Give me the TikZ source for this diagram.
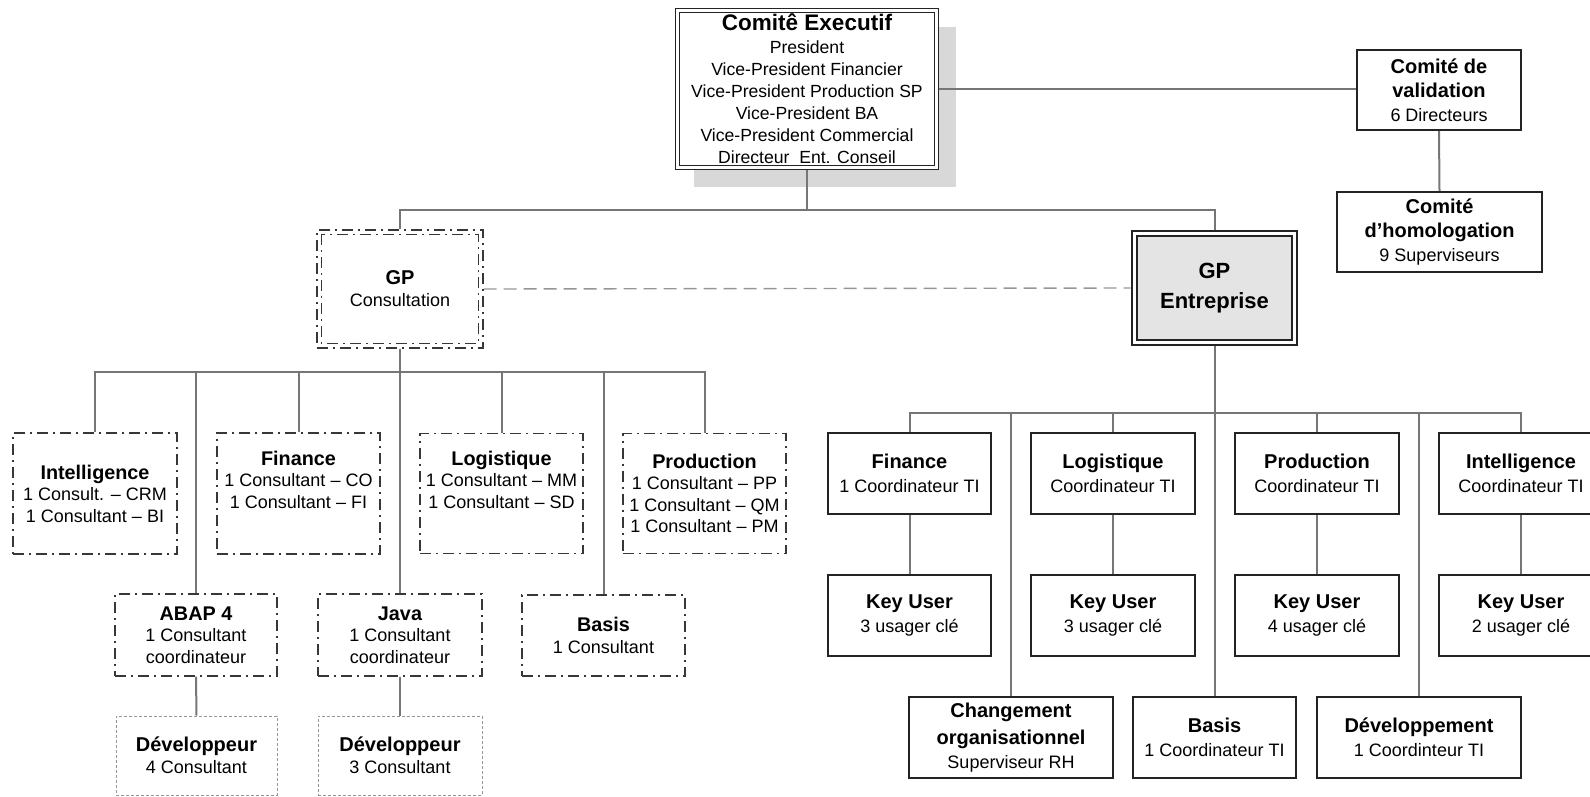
\documentclass[tikz,border=0pt]{standalone}
\usepackage{fontspec}
\setmainfont{Liberation Sans}
\usetikzlibrary{backgrounds}

\definecolor{linkgray}{RGB}{118,118,118}
\definecolor{shadowgray}{RGB}{216,216,216}
\definecolor{gpfill}{RGB}{228,228,228}
\definecolor{thingray}{RGB}{150,150,150}
\definecolor{framedark}{RGB}{35,35,35}
\definecolor{dashdark}{RGB}{55,55,55}

% headings inside the boxes
\newcommand\RHead[1]{{\fontsize{20}{24}\selectfont\bfseries #1}}
\newcommand\LHead[1]{{\fontsize{19.8}{21.5}\selectfont\bfseries #1}}

\tikzset{
  link/.style={draw=linkgray, line width=2pt},
  dashlink/.style={draw=thingray, line width=1.4pt, dash pattern=on 13pt off 7pt},
  sz/.style 2 args={minimum width=#1pt, minimum height=#2pt},
  basebox/.style={rectangle, inner sep=0pt, align=center, fill=white},
  rbox/.style={basebox, draw=framedark, line width=1.5pt,
    font=\fontsize{18}{24}\selectfont},
  dashdot/.style={draw=dashdark, line width=1.2pt,
    dash pattern=on 11pt off 5pt on 2pt off 5pt},
  lbox/.style={basebox, dashdot, font=\fontsize{18}{21.5}\selectfont},
  devbox/.style={basebox, draw=thingray, line width=1pt,
    dash pattern=on 3pt off 2pt, font=\fontsize{18}{22}\selectfont},
}

\begin{document}
\begin{tikzpicture}[x=1pt, y=-1pt]
\useasboundingbox (0,0) rectangle (1590,797);
\clip (0,0) rectangle (1590,797);

% ---------- top level ----------
\node[basebox, sz={259}{157}, draw=framedark, line width=1.3pt,
      double=white, double distance=2.6pt,
      font=\fontsize{17.6}{22}\selectfont] (ce) at (807,89)
  {{\fontsize{22.5}{24}\selectfont\bfseries Comitê Executif}\\[1pt]
   President\\Vice-President Financier\\Vice-President Production SP\\
   Vice-President BA\\Vice-President Commercial\\Directeur\ \ Ent. Conseil};

\node[rbox, sz={164}{80}] (val) at (1439,90)
  {\RHead{Comité de}\\\RHead{validation}\\6 Directeurs};
\node[rbox, sz={205}{80}] (hom) at (1439.5,232)
  {\RHead{Comité}\\\RHead{d’homologation}\\9 Superviseurs};

% ---------- project managers ----------
\node[lbox, sz={166}{118}, font=\fontsize{18}{22}\selectfont] (gpc) at (400,289)
  {{\fontsize{20}{22}\selectfont\bfseries GP}\\Consultation};
\draw[dashdot] ([shift={(5,5)}]gpc.north west) rectangle ([shift={(-5,-5)}]gpc.south east);

\node[basebox, sz={165}{114}, draw=framedark, line width=2.6pt,
      font=\fontsize{22}{30}\selectfont\bfseries,
      path picture={\draw[fill=gpfill, draw=framedark, line width=1.2pt]
        ([shift={(5,5)}]path picture bounding box.north west) rectangle
        ([shift={(-5,-5)}]path picture bounding box.south east);}] (gpe) at (1214.5,288)
  {GP\\Entreprise};

% ---------- consultation side ----------
\node[lbox, sz={164}{121}] (lint) at (95,493.5)
  {\LHead{Intelligence}\\1 Consult. – CRM\\1 Consultant – BI};
\node[lbox, sz={163}{121}] (lfin) at (298.5,493.5)
  {\LHead{Finance}\\1 Consultant – CO\\1 Consultant – FI\\\strut};
\node[lbox, sz={163}{120}] (llog) at (501.5,493.5)
  {\LHead{Logistique}\\1 Consultant – MM\\1 Consultant – SD\\\strut};
\node[lbox, sz={163}{120}] (lprod) at (704.5,493.5)
  {\LHead{Production}\\1 Consultant – PP\\1 Consultant – QM\\1 Consultant – PM};

\node[lbox, sz={162}{82}] (abap) at (196,635)
  {\LHead{ABAP 4}\\1 Consultant\\coordinateur};
\node[lbox, sz={164}{82}] (java) at (400,635)
  {\LHead{Java}\\1 Consultant\\coordinateur};
\node[lbox, sz={163}{81}] (lbas) at (603.5,635.5)
  {\LHead{Basis}\\1 Consultant};

\node[devbox, sz={161}{79}] (dev1) at (196.5,755.5)
  {{\fontsize{20}{22}\selectfont\bfseries Développeur}\\4 Consultant};
\node[devbox, sz={164}{79}] (dev2) at (400,755.5)
  {{\fontsize{20}{22}\selectfont\bfseries Développeur}\\3 Consultant};

% ---------- enterprise side ----------
\node[rbox, sz={163}{81}] (rfin) at (909.5,473.5)
  {\RHead{Finance}\\1 Coordinateur TI};
\node[rbox, sz={164}{81}] (rlog) at (1113,473.5)
  {\RHead{Logistique}\\Coordinateur TI};
\node[rbox, sz={164}{81}] (rprod) at (1317,473.5)
  {\RHead{Production}\\Coordinateur TI};
\node[rbox, sz={164}{81}] (rint) at (1521,473.5)
  {\RHead{Intelligence}\\Coordinateur TI};

\node[rbox, sz={163}{81}] (kfin) at (909.5,615.5)
  {\RHead{Key User}\\3 usager clé};
\node[rbox, sz={164}{81}] (klog) at (1113,615.5)
  {\RHead{Key User}\\3 usager clé};
\node[rbox, sz={164}{81}] (kprod) at (1317,615.5)
  {\RHead{Key User}\\4 usager clé};
\node[rbox, sz={164}{81}] (kint) at (1521,615.5)
  {\RHead{Key User}\\2 usager clé};

\node[rbox, sz={204}{81}] (chg) at (1011,737.5)
  {\RHead{Changement}\\[3pt]\RHead{organisationnel}\\Superviseur RH};
\node[rbox, sz={163}{81}] (rbas) at (1214.5,737.5)
  {\RHead{Basis}\\1 Coordinateur TI};
\node[rbox, sz={204}{81}] (rdev) at (1419,737.5)
  {\RHead{Développement}\\1 Coordinteur TI};

% ---------- bus points ----------
\coordinate (topbus) at (807,210);
\coordinate (lbus) at (400,372);
\coordinate (rbus) at (1214.5,413);

\begin{pgfonlayer}{background}
  % drop shadow of the executive committee
  \fill[shadowgray] ([shift={(17,17)}]ce.north west) rectangle ([shift={(19,19)}]ce.south east);

  % executive committee links
  \draw[link] (ce.east) -- (ce.east -| val.west);
  \draw[link] (val.south) -- (hom.north);
  \draw[link] (ce.south) -- (topbus);
  \draw[link] (gpc.north) |- (topbus) -| (gpe.north);
  \draw[dashlink] (gpc.east) -- (gpe.west);

  % consultation tree
  \draw[link] (gpc.south) -- (java.north);
  \draw[link] (lint.north) |- (lbus) -| (lprod.north);
  \draw[link] (lfin.north) -- (lfin.north |- lbus);
  \draw[link] (llog.north) -- (llog.north |- lbus);
  \draw[link] (abap.north) -- (abap.north |- lbus);
  \draw[link] (lbas.north) -- (lbas.north |- lbus);
  \draw[link] (abap.south) -- (dev1.north);
  \draw[link] (java.south) -- (dev2.north);

  % enterprise tree
  \draw[link] (gpe.south) -- (rbas.north);
  \draw[link] (rfin.north) |- (rbus) -| (rint.north);
  \draw[link] (rlog.north) -- (rlog.north |- rbus);
  \draw[link] (rprod.north) -- (rprod.north |- rbus);
  \draw[link] (chg.north) -- (chg.north |- rbus);
  \draw[link] (rdev.north) -- (rdev.north |- rbus);
  \draw[link] (rfin.south) -- (kfin.north);
  \draw[link] (rlog.south) -- (klog.north);
  \draw[link] (rprod.south) -- (kprod.north);
  \draw[link] (rint.south) -- (kint.north);
\end{pgfonlayer}
\end{tikzpicture}
\end{document}
